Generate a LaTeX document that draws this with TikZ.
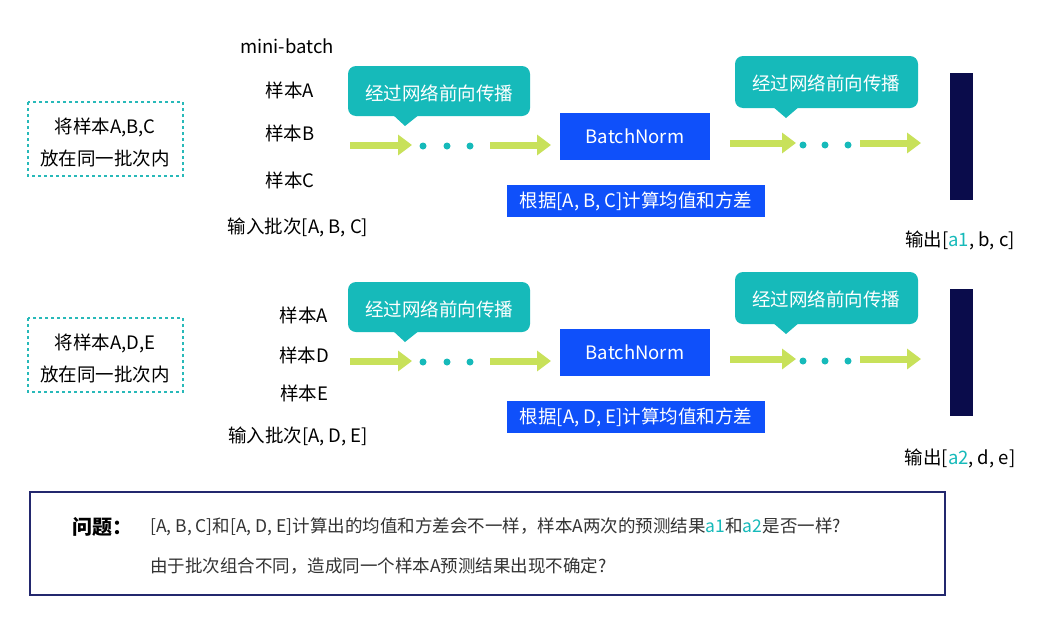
\documentclass[tikz,border=0pt]{standalone}
\usepackage{fontspec}
\setmainfont{Noto Sans CJK SC}
\usetikzlibrary{arrows.meta}
\definecolor{teal1}{RGB}{22,186,186}
\definecolor{dteal}{RGB}{40,185,185}
\definecolor{bnblue}{RGB}{15,80,250}
\definecolor{grn}{RGB}{200,225,90}
\definecolor{navy}{RGB}{10,12,75}
\definecolor{frame}{RGB}{35,40,110}
\begin{document}
\begin{tikzpicture}[x=1pt,y=-1pt,
  txt/.style={font=\fontsize{18.5}{22}\selectfont,inner sep=0pt},
  wtxt/.style={txt,text=white},
  garrow/.style={grn,line width=7pt,-{Triangle[length=14pt,width=20pt]}},
  dotc/.style={circle,fill=teal1,inner sep=0pt,minimum size=7pt}]
\useasboundingbox (0,0) rectangle (1043,616);
\fill[white] (0,0) rectangle (1043,616);
\newcommand\rowpic[4]{%
\begin{scope}[yshift=#1]
\draw[dteal,dashed,line width=1.2pt] (28,102) rectangle (183,176);
\node[txt] (g#4) at (105,127) {将样本#2};
\node[txt] at (105,158) {放在同一批次内};
\fill[teal1,rounded corners=8pt] (348,66) rectangle (530,116);
\fill[teal1] (392,114) -- (420,114) -- (405,126) -- cycle;
\node[wtxt] (c1#4) at (439,93) {经过网络前向传播};
\draw[garrow] (350,145) -- (412,145);
\node[dotc] at (423,146) {}; \node[dotc] at (447,146) {}; \node[dotc] at (470,146) {};
\draw[garrow] (490,145) -- (551,145);
\node[fill=bnblue,minimum width=150pt,minimum height=47pt,inner sep=0pt] (bn#4) at (635,136) {};
\node[wtxt] at (bn#4) {BatchNorm};
\node[fill=bnblue,minimum width=258pt,minimum height=32pt,inner sep=0pt,text=white,font=\fontsize{18.5}{22}\selectfont] (lb#4) at (636,201) {根据[#3]计算均值和方差};
\fill[teal1,rounded corners=8pt] (735,56) rectangle (918,108);
\fill[teal1] (772,106) -- (800,106) -- (786,118) -- cycle;
\node[wtxt] (c2#4) at (826,83) {经过网络前向传播};
\draw[garrow] (730,143) -- (796,143);
\node[dotc] at (803,145) {}; \node[dotc] at (825,145) {}; \node[dotc] at (848,145) {};
\draw[garrow] (860,143) -- (921,143);
\fill[navy] (950,73) rectangle (973,200);
\end{scope}}
\rowpic{0}{A,B,C}{A, B, C}{a}
\rowpic{-216}{A,D,E}{A, D, E}{b}
\node[txt] (mb) at (287,46) {mini-batch};
\node[txt] (sa1) at (290,90) {样本A};
\node[txt] (sb1) at (290,133) {样本B};
\node[txt] (sc1) at (290,180) {样本C};
\node[txt] (in1) at (298,227) {输入批次[A, B, C]};
\node[txt] (o1) at (960,240) {输出[\textcolor{teal1}{a1}, b, c]};
\node[txt] (sa2) at (304,315) {样本A};
\node[txt] (sd2) at (304,355) {样本D};
\node[txt] (se2) at (304,393) {样本E};
\node[txt] (in2) at (298,436) {输入批次[A, D, E]};
\node[txt] (o2) at (960,458) {输出[\textcolor{teal1}{a2}, d, e]};
\draw[frame,line width=1.8pt] (30,492) rectangle (945,595);
\node[font=\fontsize{20}{24}\selectfont\bfseries,inner sep=0pt,anchor=west] (q) at (72,527) {问题：};
\node[font=\fontsize{17.5}{20}\selectfont,inner sep=0pt,anchor=west,text=black!80] (q1) at (150,527) {[A, B, C]和[A, D, E]计算出的均值和方差会不一样，样本A两次的预测结果\textcolor{teal1}{a1}和\textcolor{teal1}{a2}是否一样?};
\node[font=\fontsize{17.5}{20}\selectfont,inner sep=0pt,anchor=west,text=black!80] (q2) at (150,566) {由于批次组合不同，造成同一个样本A预测结果出现不确定?};
\end{tikzpicture}
\end{document}
